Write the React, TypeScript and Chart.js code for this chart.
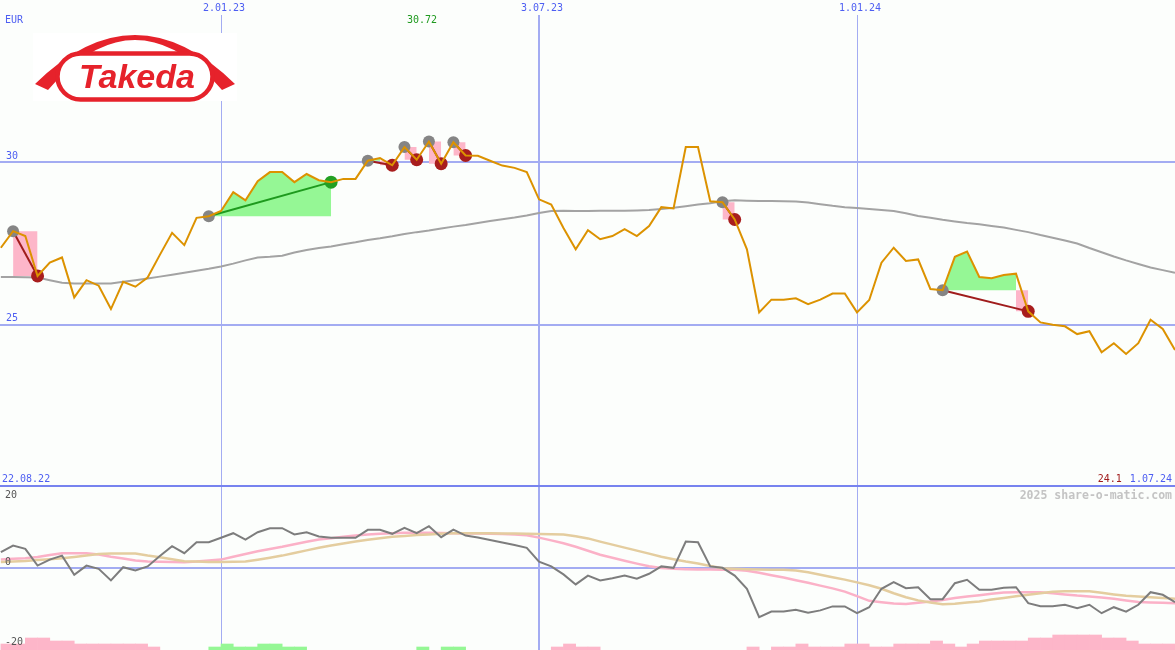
import { useEffect, useRef } from 'react';
import { Chart, registerables } from 'chart.js';

Chart.register(...registerables);

// ---------- data (weekly, week 1 = 29.08.22, week 97 = 1.07.24) ----------
const firstWeek = 1;
const xMin = 0.93;
const xMax = 97;

const price = [
  27.37, 27.88, 27.73, 26.5, 26.91, 27.07, 25.84, 26.37, 26.2, 25.48,
  26.32, 26.17, 26.45, 27.15, 27.83, 27.45, 28.29, 28.34, 28.5, 29.08,
  28.83, 29.42, 29.7, 29.7, 29.39, 29.64, 29.45, 29.39, 29.49, 29.49,
  30.05, 30.13, 29.91, 30.47, 30.08, 30.64, 29.96, 30.62, 30.21, 30.2,
  30.05, 29.9, 29.83, 29.7, 28.86, 28.7, 27.98, 27.32, 27.91, 27.63,
  27.73, 27.94, 27.73, 28.04, 28.62, 28.58, 30.47, 30.47, 28.8, 28.77,
  28.24, 27.32, 25.38, 25.77, 25.77, 25.81, 25.63, 25.77, 25.96, 25.96,
  25.38, 25.76, 26.91, 27.37, 26.96, 27.01, 26.1, 26.06, 27.09, 27.25,
  26.47, 26.43, 26.53, 26.57, 25.41, 25.07, 25.0, 24.95, 24.71, 24.8,
  24.15, 24.43, 24.1, 24.43, 25.15, 24.87, 24.22,
];

const movingAvg = [
  26.47, 26.47, 26.46, 26.45, 26.37, 26.29, 26.27, 26.27, 26.27, 26.27,
  26.32, 26.37, 26.42, 26.48, 26.54, 26.6, 26.66, 26.72, 26.79, 26.88,
  26.98, 27.07, 27.09, 27.12, 27.22, 27.3, 27.36, 27.41, 27.48, 27.54,
  27.61, 27.66, 27.72, 27.79, 27.85, 27.9, 27.96, 28.02, 28.07, 28.13,
  28.19, 28.25, 28.3, 28.36, 28.44, 28.5, 28.51, 28.5, 28.5, 28.51,
  28.51, 28.51, 28.52, 28.53, 28.56, 28.6, 28.65, 28.7, 28.74, 28.8,
  28.83, 28.82, 28.81, 28.81, 28.8, 28.79, 28.76, 28.71, 28.66, 28.62,
  28.59, 28.56, 28.53, 28.5, 28.43, 28.35, 28.29, 28.23, 28.18, 28.13,
  28.09, 28.04, 27.99, 27.92, 27.85, 27.76, 27.68, 27.59, 27.5, 27.36,
  27.23, 27.1, 26.98, 26.87, 26.76, 26.68, 26.6,
];

const oscillator = [
  3.95, 5.6, 4.8, 0.6, 2.1, 3.1, -1.7, 0.6, -0.2, -3.1,
  0.2, -0.6, 0.4, 3.0, 5.45, 3.7, 6.45, 6.45, 7.55, 8.7,
  7.1, 8.95, 9.95, 9.95, 8.4, 8.95, 7.9, 7.55, 7.55, 7.55,
  9.55, 9.55, 8.55, 10.05, 8.7, 10.45, 7.7, 9.6, 8.1, 7.6,
  7.0, 6.4, 5.75, 5.05, 1.6, 0.4, -1.6, -4.1, -1.9, -3.1,
  -2.55, -1.9, -2.7, -1.45, 0.4, 0.05, 6.6, 6.45, 0.4, 0.05,
  -1.9, -5.2, -12.3, -10.9, -10.9, -10.45, -11.2, -10.6, -9.6, -9.6,
  -11.3, -9.8, -5.2, -3.55, -5.05, -4.8, -7.8, -7.8, -3.8, -2.95,
  -5.45, -5.45, -4.95, -4.8, -8.8, -9.55, -9.55, -9.2, -10.05, -9.2,
  -11.3, -9.8, -10.9, -9.2, -6.05, -6.7, -8.55,
];

const oscSignal = [
  2.1, 2.3, 2.45, 2.75, 3.25, 3.7, 3.7, 3.7, 3.4, 2.8,
  2.4, 1.9, 1.6, 1.55, 1.5, 1.45, 1.6, 1.9, 2.1, 2.8,
  3.5, 4.2, 4.75, 5.3, 5.95, 6.55, 7.1, 7.45, 7.8, 8.1,
  8.4, 8.55, 8.7, 8.8, 8.8, 8.8, 8.75, 8.7, 8.65, 8.6,
  8.55, 8.5, 8.4, 8.2, 7.6, 6.9, 6.2, 5.3, 4.3, 3.3,
  2.55, 1.8, 1.1, 0.45, 0, -0.2, -0.3, -0.4, -0.4, -0.45,
  -0.45, -0.7, -1.2, -1.8, -2.4, -3.05, -3.7, -4.4, -5.1, -5.9,
  -7.05, -8.2, -8.55, -8.9, -9.0, -8.7, -8.4, -8.0, -7.5, -7.1,
  -6.8, -6.45, -6.1, -6.05, -6.05, -6.05, -6.3, -6.6, -6.9, -7.1,
  -7.35, -7.7, -8.1, -8.5, -8.6, -8.7, -8.8,
];

const oscSlow = [
  1.5, 1.6, 1.75, 2.0, 2.2, 2.45, 2.75, 3.1, 3.5, 3.6,
  3.65, 3.6, 3.1, 2.7, 2.2, 1.7, 1.6, 1.5, 1.5, 1.55,
  1.6, 2.05, 2.55, 3.1, 3.75, 4.4, 5.05, 5.6, 6.15, 6.6,
  7.05, 7.45, 7.8, 8.0, 8.25, 8.4, 8.55, 8.7, 8.7, 8.7,
  8.7, 8.65, 8.6, 8.55, 8.5, 8.45, 8.4, 7.95, 7.4, 6.6,
  5.85, 5.1, 4.35, 3.6, 2.8, 2.2, 1.6, 1.1, 0.5, -0.05,
  -0.2, -0.3, -0.4, -0.45, -0.45, -0.65, -1.05, -1.7, -2.3, -2.9,
  -3.6, -4.3, -5.2, -6.3, -7.3, -8.1, -8.6, -9.05, -8.95, -8.65,
  -8.35, -7.9, -7.5, -7.05, -6.7, -6.3, -5.95, -5.8, -5.8, -5.8,
  -6.2, -6.6, -6.95, -7.15, -7.3, -7.5, -7.7,
];

// volume bars per week segment (week 1..96), down weeks and up weeks
const volDown = [
  2, 2, 4, 4, 3, 3, 2, 2, 2, 2,
  2, 2, 1, 0, 0, 0, 0, 0, 0, 0,
  0, 0, 0, 0, 0, 0, 0, 0, 0, 0,
  0, 0, 0, 0, 0, 0, 0, 0, 0, 0,
  0, 0, 0, 0, 0, 1, 2, 1, 1, 0,
  0, 0, 0, 0, 0, 0, 0, 0, 0, 0,
  0, 1, 0, 1, 1, 2, 1, 1, 1, 2,
  2, 1, 1, 2, 2, 2, 3, 2, 1, 2,
  3, 3, 3, 3, 4, 4, 5, 5, 5, 5,
  4, 4, 3, 2, 2, 2,
];
const volUp = [
  0, 0, 0, 0, 0, 0, 0, 0, 0, 0,
  0, 0, 0, 0, 0, 0, 0, 1, 2, 1,
  1, 2, 2, 1, 1, 0, 0, 0, 0, 0,
  0, 0, 0, 0, 1, 0, 1, 1, 0, 0,
  0, 0, 0, 0, 0, 0, 0, 0, 0, 0,
  0, 0, 0, 0, 0, 0, 0, 0, 0, 0,
  0, 0, 0, 0, 0, 0, 0, 0, 0, 0,
  0, 0, 0, 0, 0, 0, 0, 0, 0, 0,
  0, 0, 0, 0, 0, 0, 0, 0, 0, 0,
  0, 0, 0, 0, 0, 0,
];

// trade signals (entry week, exit week)
const tradeEntry = [2, 18, 31, 34, 36, 38, 60, 78];
const tradeExit = [4, 28, 33, 35, 37, 39, 61, 85];

// axis labels
const yearWeeks = [19, 71];
const yearLabels = ['2.01.23', '1.01.24'];
const midWeeks = [45];
const midLabels = ['3.07.23'];
const priceTicks = [30, 25];
const oscTicks = [20, 0, -20];
const currency = 'EUR';
const startLabel = '22.08.22';
const endLabel = '1.07.24';
const lastCloseLabel = '24.1';
const highLabel = '30.72';
const credit = '2025 share-o-matic.com';
const logoText = 'Takeda';

// ---------- styles ----------
const BG = '#fcfefc';
const GRID = '#a3acf2';
const SEP = '#7783ef';
const BLUE = '#4d5ef2';
const FONT = '10px "DejaVu Sans Mono", monospace';
const ORANGE = '#dc9200';
const MA_GRAY = '#a3a3a3';
const DOT_GRAY = '#858585';
const RED_DOT = '#a81d1d';
const RED_LINE = '#a01c1c';
const GREEN_DOT = '#23a023';
const GREEN_LINE = '#1e9a1e';
const GREEN_FILL = '#95f795';
const PINK = '#fdb6c9';
const TRANSPARENT = 'rgba(0,0,0,0)';
const LOGO_RED = '#e6222b';

const priceAt = (w: number) => price[w - firstWeek];
const pt = (x: number, y: number) => ({ x, y });
const range = (a: number, b: number) => {
  const r: number[] = [];
  for (let w = a; w <= b; w++) r.push(w);
  return r;
};

function buildTrades() {
  return tradeEntry.map((entry, k) => {
    const exit = tradeExit[k];
    const pIn = priceAt(entry);
    const pOut = priceAt(exit);
    const win = pOut >= pIn;
    let lossStart = exit;
    if (!win) {
      lossStart = entry;
      for (let w = entry; w < exit; w++) if (priceAt(w) >= pIn) lossStart = w;
    }
    const greenEnd = win ? exit : lossStart;
    return { entry, exit, pIn, pOut, win, lossStart, greenEnd };
  });
}

function drawLogo(ctx: CanvasRenderingContext2D) {
  ctx.save();
  ctx.fillStyle = '#ffffff';
  ctx.fillRect(33, 33, 204, 68);
  ctx.fillStyle = LOGO_RED;
  // arch with flared ends
  ctx.beginPath();
  ctx.moveTo(35, 84);
  ctx.quadraticCurveTo(135, -14, 235, 84);
  ctx.lineTo(222, 90);
  ctx.lineTo(212, 79);
  ctx.quadraticCurveTo(135, 1, 58, 79);
  ctx.lineTo(48, 90);
  ctx.closePath();
  ctx.fill();
  // pill outline
  ctx.beginPath();
  (ctx as any).roundRect(57.5, 53.5, 155, 46, 23);
  ctx.fillStyle = '#ffffff';
  ctx.fill();
  ctx.lineWidth = 4.5;
  ctx.strokeStyle = LOGO_RED;
  ctx.stroke();
  ctx.fillStyle = LOGO_RED;
  ctx.font = 'italic bold 34px "Liberation Sans", Arial, sans-serif';
  ctx.textAlign = 'center';
  ctx.textBaseline = 'alphabetic';
  ctx.fillText(logoText, 137, 88);
  ctx.restore();
}

function drawVerticals(chart: any, top: number) {
  const { ctx } = chart;
  const x = chart.scales.x;
  ctx.strokeStyle = GRID;
  ctx.lineWidth = 1;
  yearWeeks.forEach((w) => {
    const px = Math.round(x.getPixelForValue(w)) + 0.5;
    ctx.beginPath();
    ctx.moveTo(px, top);
    ctx.lineTo(px, chart.height);
    ctx.stroke();
  });
  ctx.lineWidth = 2;
  midWeeks.forEach((w) => {
    const px = Math.round(x.getPixelForValue(w));
    ctx.beginPath();
    ctx.moveTo(px, top);
    ctx.lineTo(px, chart.height);
    ctx.stroke();
  });
}

const mainDecor = {
  id: 'mainDecor',
  beforeDatasetsDraw(chart: any) {
    const { ctx } = chart;
    const y = chart.scales.y;
    ctx.save();
    ctx.strokeStyle = GRID;
    ctx.lineWidth = 2;
    priceTicks.forEach((v) => {
      const py = Math.round(y.getPixelForValue(v));
      ctx.beginPath();
      ctx.moveTo(0, py);
      ctx.lineTo(chart.width, py);
      ctx.stroke();
    });
    drawVerticals(chart, 15);
    drawLogo(ctx);
    ctx.restore();
  },
  afterDatasetsDraw(chart: any) {
    const { ctx } = chart;
    const x = chart.scales.x;
    const y = chart.scales.y;
    ctx.save();
    ctx.font = FONT;
    ctx.textBaseline = 'middle';
    ctx.fillStyle = BLUE;
    ctx.textAlign = 'center';
    yearWeeks.forEach((w, i) => ctx.fillText(yearLabels[i], x.getPixelForValue(w) + 3, 8));
    midWeeks.forEach((w, i) => ctx.fillText(midLabels[i], x.getPixelForValue(w) + 3, 8));
    ctx.textAlign = 'left';
    ctx.fillText(currency, 5, 20);
    priceTicks.forEach((v) => ctx.fillText(String(v), 6, y.getPixelForValue(v) - 6));
    ctx.fillText(startLabel, 2, chart.height - 8);
    ctx.textAlign = 'right';
    ctx.fillText(endLabel, chart.width - 3, chart.height - 8);
    const endW = ctx.measureText(endLabel).width;
    ctx.fillStyle = RED_LINE;
    ctx.fillText(lastCloseLabel, chart.width - 3 - endW - 8, chart.height - 8);
    // high label over the highest close
    let hi = 0;
    price.forEach((v, i) => { if (v > price[hi]) hi = i; });
    ctx.textAlign = 'center';
    ctx.fillStyle = '#1f9a1f';
    ctx.fillText(highLabel, x.getPixelForValue(firstWeek + hi) - 7, 20);
    // panel separator
    ctx.strokeStyle = SEP;
    ctx.lineWidth = 2;
    ctx.beginPath();
    ctx.moveTo(0, chart.height - 1);
    ctx.lineTo(chart.width, chart.height - 1);
    ctx.stroke();
    ctx.restore();
  },
};

const lowerDecor = {
  id: 'lowerDecor',
  beforeDatasetsDraw(chart: any) {
    const { ctx } = chart;
    const y = chart.scales.y;
    ctx.save();
    drawVerticals(chart, 0);
    ctx.strokeStyle = GRID;
    ctx.lineWidth = 2;
    const py = Math.round(y.getPixelForValue(0));
    ctx.beginPath();
    ctx.moveTo(0, py);
    ctx.lineTo(chart.width, py);
    ctx.stroke();
    ctx.restore();
  },
  afterDatasetsDraw(chart: any) {
    const { ctx } = chart;
    const y = chart.scales.y;
    ctx.save();
    ctx.font = FONT;
    ctx.textBaseline = 'middle';
    ctx.textAlign = 'left';
    ctx.fillStyle = '#555555';
    oscTicks.forEach((v) => {
      const py = y.getPixelForValue(v);
      ctx.fillText(String(v), 5, v > 0 ? py + 7 : py - 6);
    });
    ctx.font = 'bold 11.5px "DejaVu Sans Mono", monospace';
    ctx.fillStyle = '#c4c4c4';
    ctx.textAlign = 'right';
    ctx.fillText(credit, chart.width - 3, 9);
    ctx.restore();
  },
};

const baseOptions = (yMin: number, yMax: number, extraScales: any = {}) => ({
  responsive: false,
  animation: false as const,
  devicePixelRatio: 1,
  events: [] as any[],
  layout: { padding: 0, autoPadding: false },
  plugins: { legend: { display: false }, tooltip: { enabled: false } },
  elements: { point: { radius: 0, hoverRadius: 0 }, line: { tension: 0 } },
  scales: {
    x: { type: 'linear' as const, display: false, min: xMin, max: xMax, offset: false },
    y: { type: 'linear' as const, display: false, min: yMin, max: yMax },
    ...extraScales,
  },
});

function mainConfig(): any {
  const trades = buildTrades();
  const ds: any[] = [];
  ds.push({
    type: 'line',
    data: price.map((v, i) => pt(firstWeek + i, v)),
    borderColor: ORANGE,
    borderWidth: 2,
    pointRadius: 0,
    fill: false,
    order: 0,
  });
  ds.push({
    type: 'line',
    data: movingAvg.map((v, i) => pt(firstWeek + i, v)),
    borderColor: MA_GRAY,
    borderWidth: 2,
    pointRadius: 0,
    fill: false,
    order: 4,
  });
  trades.forEach((t) => {
    if (t.greenEnd > t.entry) {
      ds.push({
        type: 'line',
        data: range(t.entry, t.greenEnd).map((w) => pt(w, priceAt(w))),
        borderColor: TRANSPARENT,
        borderWidth: 1,
        backgroundColor: GREEN_FILL,
        fill: { value: t.pIn },
        pointRadius: 0,
        order: 6,
      });
    }
    if (!t.win) {
      ds.push({
        type: 'line',
        data: [pt(t.lossStart, t.pIn), pt(t.exit, t.pIn)],
        borderColor: TRANSPARENT,
        borderWidth: 1,
        backgroundColor: PINK,
        fill: { value: t.pOut },
        pointRadius: 0,
        order: 6,
      });
    }
    ds.push({
      type: 'line',
      data: [pt(t.entry, t.pIn), pt(t.exit, t.pOut)],
      borderColor: t.win ? GREEN_LINE : RED_LINE,
      borderWidth: 2,
      pointRadius: 0,
      fill: false,
      order: 3,
    });
  });
  ds.push({
    type: 'line',
    data: trades.map((t) => pt(t.entry, t.pIn)),
    showLine: false,
    pointRadius: 6,
    pointBackgroundColor: DOT_GRAY,
    pointBorderWidth: 0,
    pointBorderColor: TRANSPARENT,
    order: 2,
  });
  ds.push({
    type: 'line',
    data: trades.map((t) => pt(t.exit, t.pOut)),
    showLine: false,
    pointRadius: 6.5,
    pointBackgroundColor: trades.map((t) => (t.win ? GREEN_DOT : RED_DOT)),
    pointBorderWidth: 0,
    pointBorderColor: TRANSPARENT,
    order: 1,
  });
  return {
    type: 'line',
    data: { datasets: ds },
    options: baseOptions(20, 35),
    plugins: [mainDecor],
  };
}

function lowerConfig(): any {
  const vol = volDown.map((d, i) => (d > 0 ? d : volUp[i] > 0 ? volUp[i] : null));
  const volColors = volDown.map((d, i) => (d > 0 ? PINK : volUp[i] > 0 ? GREEN_FILL : PINK));
  return {
    type: 'line',
    data: {
      datasets: [
        {
          type: 'line',
          data: oscillator.map((v, i) => pt(firstWeek + i, v)),
          borderColor: '#7d7d7d',
          borderWidth: 2,
          pointRadius: 0,
          fill: false,
          order: 0,
        },
        {
          type: 'line',
          data: oscSlow.map((v, i) => pt(firstWeek + i, v)),
          borderColor: '#e4cd9f',
          borderWidth: 2.5,
          pointRadius: 0,
          fill: false,
          order: 1,
        },
        {
          type: 'line',
          data: oscSignal.map((v, i) => pt(firstWeek + i, v)),
          borderColor: '#fbb1c7',
          borderWidth: 2.5,
          pointRadius: 0,
          fill: false,
          order: 2,
        },
        {
          type: 'bar',
          data: vol.map((v, i) => pt(firstWeek + i + 0.5, v as any)),
          backgroundColor: volColors,
          borderWidth: 0,
          barPercentage: 1,
          categoryPercentage: 1,
          yAxisID: 'yv',
          order: 5,
        },
      ],
    },
    options: baseOptions(-20.5, 20.25, {
      yv: { type: 'linear', display: false, min: 0, max: 163 / 3 },
    }),
    plugins: [lowerDecor],
  };
}

export default function App() {
  const mainRef = useRef<HTMLCanvasElement>(null);
  const lowRef = useRef<HTMLCanvasElement>(null);
  useEffect(() => {
    const c1 = new Chart(mainRef.current as HTMLCanvasElement, mainConfig());
    const c2 = new Chart(lowRef.current as HTMLCanvasElement, lowerConfig());
    return () => {
      c1.destroy();
      c2.destroy();
    };
  }, []);
  return (
    <div
      style={{
        position: 'absolute',
        left: 0,
        top: 0,
        width: 1175,
        height: 650,
        background: BG,
        overflow: 'hidden',
      }}
    >
      <canvas
        ref={mainRef}
        width={1175}
        height={487}
        style={{ position: 'absolute', left: 0, top: 0, width: 1175, height: 487 }}
      />
      <canvas
        ref={lowRef}
        width={1175}
        height={163}
        style={{ position: 'absolute', left: 0, top: 487, width: 1175, height: 163 }}
      />
    </div>
  );
}
